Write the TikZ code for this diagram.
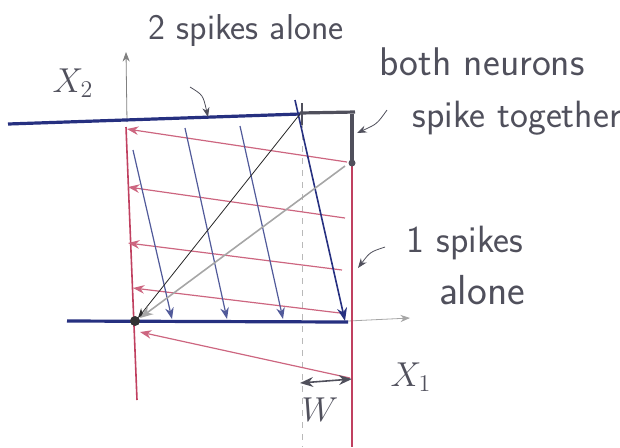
\documentclass[tikz,border=0pt]{standalone}
\usepackage{tikz}
\usetikzlibrary{arrows.meta}
\definecolor{penblue}{RGB}{38,48,128}
\definecolor{penred}{RGB}{192,64,96}
\definecolor{pengray}{RGB}{80,80,92}

\begin{document}
\begin{tikzpicture}[x=0.5pt, y=-0.5pt, >=Stealth,
    hand/.style={text=pengray, font=\sffamily\fontsize{18}{21}\selectfont, inner sep=0pt}]
    \useasboundingbox (0,0) rectangle (620,447);

    % 1. Trục tọa độ (nét chì mảnh)
    \draw[->, gray, thin] (127,122) -- (126,52);
    \draw[->, gray!70, thin] (348,321) -- (410,318);

    % 2. Đường đứt nét tại x = w
    \draw[gray!55, dashed] (302,122) -- (302,447);

    % 3. Các đường đỏ thẳng đứng
    \draw[penred, thick] (126,127) -- (137,400);
    \draw[penred, thick] (352,163) -- (352,447);

    % 4. Các mũi tên đỏ (chạy sang trái)
    \foreach \xa/\ya/\xb/\yb in {347/162/127/129, 345/218/128/187,
        342/270/128/243, 340/313/133/288, 350/378/140/332}
        \draw[->, penred!80, semithick] (\xa,\ya) -- (\xb,\yb);

    % 5. Các mũi tên xanh (chạy xuống dưới)
    \foreach \xa/\ya/\xb/\yb in {133/150/172/319, 185/128/227/319,
        240/126/283/319}
        \draw[->, penblue!80, semithick] (\xa,\ya) -- (\xb,\yb);
    \draw[->, penblue, thick] (295,100) -- (345,321);

    % 6. Hai đường ngưỡng màu xanh đậm
    \draw[penblue, line width=1.6pt] (8,124) -- (300,114);
    \draw[penblue, line width=1.6pt] (67,321) -- (348,322);

    % 7. Đoạn "cả hai cùng phát xung"
    \draw[pengray, line width=1.6pt] (300,113) -- (355,112);
    \draw[pengray, line width=1.6pt] (352,114) -- (352,163);
    \draw[pengray, thick] (302,103) -- (302,125);
    \fill[pengray] (352,163) circle (3.5);

    % 8. Các đường chéo về gốc
    \draw[->, black!85] (300,114) -- (138,318);
    \draw[->, gray!70, thick] (345,166) -- (140,318);
    \fill[black!80] (135,321) circle (5);

    % 9. Khoảng W
    \draw[<->, pengray, thick] (300,383) -- (352,379);

    % 10. Chú thích
    \node[hand] (twoalone) at (246,31) {2 spikes alone};
    \node[hand, font=\sffamily\fontsize{20}{24}\selectfont] (both) at (482,62) {both neurons};
    \node[hand, font=\sffamily\fontsize{19}{22}\selectfont] (together) at (517,118) {spike together};
    \node[hand, font=\sffamily\fontsize{19}{22}\selectfont] (onealone) at (465,243) {1 spikes};
    \node[hand, font=\sffamily\fontsize{21}{24}\selectfont] (alone) at (482,290) {alone};
    \node[hand, font=\fontsize{18}{21}\selectfont] (xtwo) at (73,83) {$X_2$};
    \node[hand, font=\fontsize{18}{21}\selectfont] (xone) at (411,377) {$X_1$};
    \node[hand, font=\fontsize{18}{21}\selectfont] (w) at (320,410) {$W$};

    % 11. Mũi tên chỉ dẫn
    \draw[->, pengray] (190,87) .. controls (203,95) .. (208,117);
    \draw[->, pengray] (387,110) .. controls (377,124) .. (357,133);
    \draw[->, pengray] (385,247) .. controls (370,252) .. (358,268);
\end{tikzpicture}
\end{document}
